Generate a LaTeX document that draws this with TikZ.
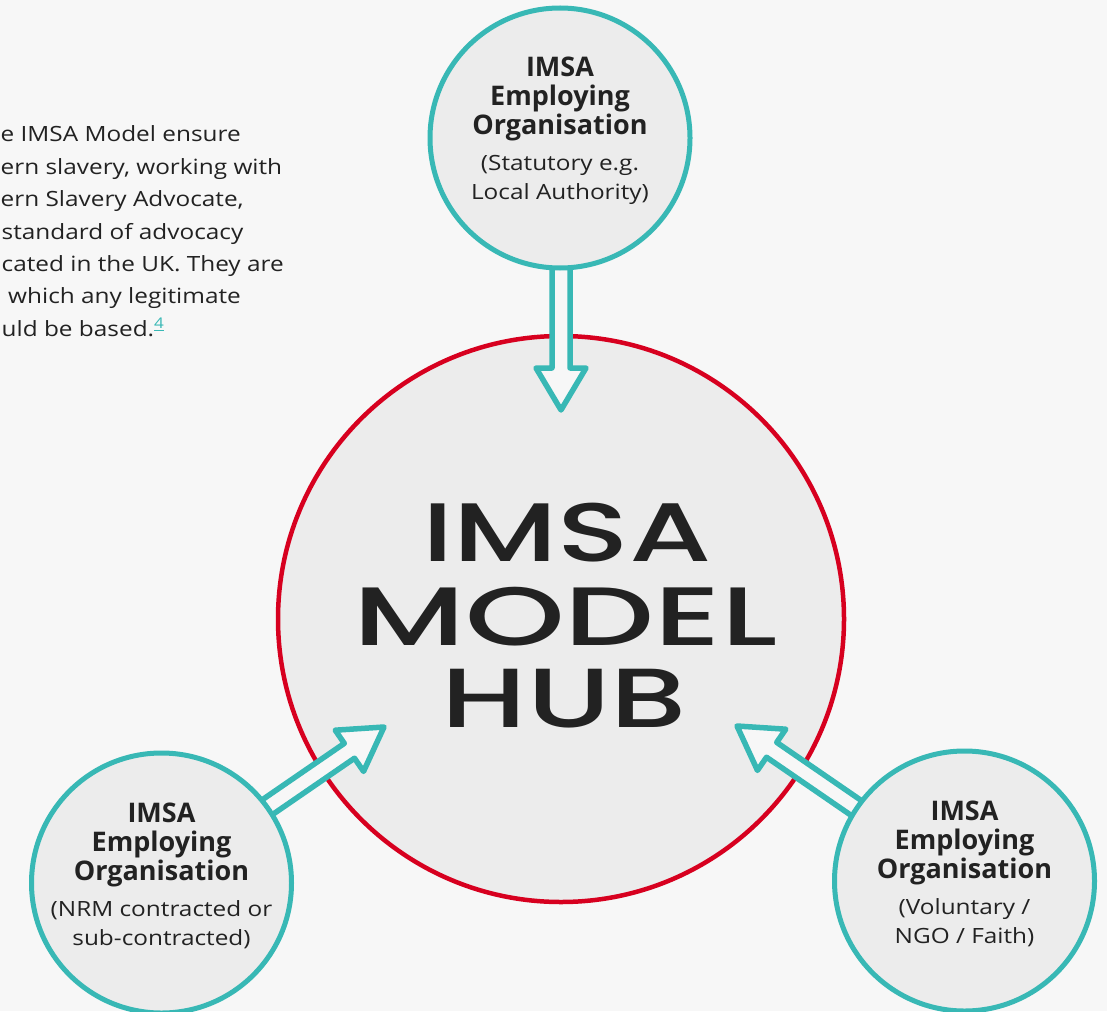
\documentclass[tikz,border=0pt]{standalone}
\usepackage{fontspec}
\usepackage{graphicx}
\usetikzlibrary{calc}
\setmainfont{Open Sans}
\newfontfamily\regfont{Open Sans}[FakeStretch=1.16]
\IfFontExistsTF{Poppins Medium}{\newfontfamily\hubfont{Poppins Medium}}{\newfontfamily\hubfont{Poppins}}
\definecolor{bgc}{HTML}{F7F7F7}
\definecolor{circfill}{HTML}{ECECEC}
\definecolor{tealc}{HTML}{38B8B5}
\definecolor{redc}{HTML}{D7001F}
\definecolor{inkc}{HTML}{222222}
\newcommand\blockarrow[3]{%
  \coordinate (#3h) at ($(#2)!42pt!(#1)$);
  \draw[flow] ($(#1)!9pt!90:(#2)$) -- ($(#3h)!9pt!90:(#2)$) -- ($(#3h)!25pt!90:(#2)$)
     -- (#2) -- ($(#3h)!25pt!-90:(#2)$) -- ($(#3h)!9pt!-90:(#2)$) -- ($(#1)!9pt!-90:(#2)$) -- cycle;
}
\newcommand\orgtext[3]{%
  \node[boldline] at ($(#1)+(0,-61)$) {IMSA};
  \node[boldline] at ($(#1)+(0,-32)$) {Employing};
  \node[boldline] at ($(#1)+(0,-3)$) {Organisation};
  \node[subline] at ($(#1)+(0,33)$) {#2};
  \node[subline] at ($(#1)+(0,62)$) {#3};
}
\begin{document}
\begin{tikzpicture}[x=1pt,y=-1pt,
  hub/.style={circle, draw=redc, line width=4.5pt, fill=circfill, minimum size=566pt, inner sep=0pt},
  org/.style={circle, draw=tealc, line width=5pt, fill=circfill, minimum size=260pt, inner sep=0pt},
  flow/.style={draw=tealc, fill=bgc, line width=5.5pt, line join=round},
  boldline/.style={anchor=base, inner sep=0pt, text=inkc, font=\fontsize{27}{29}\selectfont\bfseries},
  subline/.style={anchor=base, inner sep=0pt, text=inkc, font=\regfont\fontsize{21}{30}\selectfont},
  para/.style={anchor=base west, inner sep=0pt, text=inkc, font=\regfont\fontsize{21}{32}\selectfont},
  hubline/.style={anchor=base, inner sep=0pt, text=inkc, font=\hubfont}
]
\useasboundingbox (0,0) rectangle (1107,1011);
\fill[bgc] (0,0) rectangle (1107,1011);
\clip (0,0) rectangle (1107,1011);

% paragraph
\node[para] (p1) at (0.5,142) {e IMSA Model ensure};
\node[para] (p2) at (0.5,174.3) {ern slavery, working with};
\node[para] (p3) at (0.5,206.6) {ern Slavery Advocate,};
\node[para] (p4) at (1.5,239) {standard of advocacy};
\node[para] (p5) at (1.5,271) {cated in the UK. They are};
\node[para] (p6) at (8,303.6) {which any legitimate};
\node[para] (p7) at (1.5,336) {uld be based.\textcolor{tealc}{\textsuperscript{\underline{4}}}};

% hub
\node[hub] (hub) at (561,619) {};
\node[hubline] (l1) at (567,561.7) {\resizebox{289pt}{58.4pt}{IMSA}};
\node[hubline] (l2) at (565.3,645) {\resizebox{424pt}{58.3pt}{MODEL}};
\node[hubline] (l3) at (564.2,727.3) {\resizebox{245pt}{58.3pt}{HUB}};

% arrows
\coordinate (tb) at (561,250);
\coordinate (tt) at (561,410);
\coordinate (lb) at (243.9,823.3);
\coordinate (lt) at (384,727);
\coordinate (rb) at (877.1,822.3);
\coordinate (rt) at (737,726);
\blockarrow{tb}{tt}{ta}
\blockarrow{lb}{lt}{la}
\blockarrow{rb}{rt}{ra}

% organisations
\node[org] (top) at (560,138) {};
\node[org] (left) at (161.5,883) {};
\node[org] (right) at (964.5,881) {};
\orgtext{top}{(Statutory e.g.}{Local Authority)}
\orgtext{left}{(NRM contracted or}{sub-contracted)}
\orgtext{right}{(Voluntary /}{NGO / Faith)}
\end{tikzpicture}
\end{document}
